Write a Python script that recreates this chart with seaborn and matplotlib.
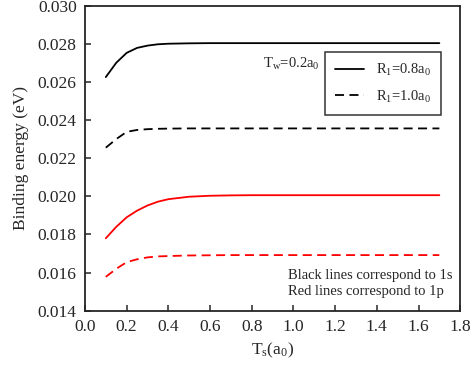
import numpy as np
import pandas as pd
import matplotlib.pyplot as plt
import seaborn as sns

# data
ts = [0.10, 0.15, 0.20, 0.25, 0.30, 0.35, 0.40, 0.50, 0.60, 0.70, 0.80, 1.00, 1.20, 1.40, 1.60, 1.70]
e_1s_r08 = [0.02625, 0.02700, 0.02752, 0.02778, 0.02790, 0.02797, 0.02800, 0.02802, 0.02803, 0.02803,
            0.02803, 0.02803, 0.02803, 0.02803, 0.02803, 0.02803]
e_1s_r10 = [0.02255, 0.02300, 0.02338, 0.02348, 0.02352, 0.02354, 0.02355, 0.02356, 0.02356, 0.02356,
            0.02356, 0.02356, 0.02356, 0.02356, 0.02356, 0.02356]
e_1p_r08 = [0.01780, 0.01840, 0.01890, 0.01925, 0.01952, 0.01972, 0.01985, 0.01998, 0.02003, 0.02005,
            0.02006, 0.02006, 0.02006, 0.02006, 0.02006, 0.02006]
e_1p_r10 = [0.01578, 0.01620, 0.01655, 0.01670, 0.01680, 0.01685, 0.01687, 0.01690, 0.01691, 0.01692,
            0.01692, 0.01692, 0.01692, 0.01692, 0.01692, 0.01692]

sns.set_style("ticks")
plt.rcParams['font.family'] = ['Liberation Serif', 'DejaVu Serif']
plt.rcParams.update({
    'mathtext.fontset': 'custom',
    'mathtext.rm': 'Liberation Serif',
    'mathtext.it': 'Liberation Serif:italic',
    'mathtext.bf': 'Liberation Serif:bold',
    'xtick.direction': 'in',
    'ytick.direction': 'in',
    'font.size': 12.5,
    'axes.linewidth': 1.3,
})

fig, ax = plt.subplots(figsize=(4.72, 3.70), dpi=100)

sns.lineplot(x=ts, y=e_1s_r08, ax=ax, color='black', lw=1.3, label=r'R$_\mathrm{1}$=0.8a$_\mathrm{0}$')
sns.lineplot(x=ts, y=e_1s_r10, ax=ax, color='black', lw=1.3, linestyle=(0, (5, 3)),
             label=r'R$_\mathrm{1}$=1.0a$_\mathrm{0}$')
sns.lineplot(x=ts, y=e_1p_r08, ax=ax, color='red', lw=1.3, legend=False)
sns.lineplot(x=ts, y=e_1p_r10, ax=ax, color='red', lw=1.3, linestyle=(0, (5, 3)), legend=False)

ax.set_xlim(0.0, 1.8)
ax.set_ylim(0.014, 0.030)
ax.set_xticks(np.arange(0.0, 1.81, 0.2))
ax.set_yticks(np.arange(0.014, 0.0301, 0.002))
ax.xaxis.set_major_formatter(plt.FormatStrFormatter('%.1f'))
ax.yaxis.set_major_formatter(plt.FormatStrFormatter('%.3f'))
ax.tick_params(labelsize=12.5, length=4, width=1.1, pad=6)

ax.set_xlabel(r'T$_\mathrm{s}$(a$_\mathrm{0}$)', fontsize=12.5, labelpad=4)
ax.set_ylabel('Binding energy (eV)', fontsize=12.5, labelpad=6)

leg = ax.legend(loc='upper right', bbox_to_anchor=(0.949, 0.848), fontsize=10.5, frameon=True,
                fancybox=False, edgecolor='black', handlelength=2.0, handletextpad=0.8,
                borderpad=0.7, labelspacing=0.7, borderaxespad=0.0)
leg.get_frame().set_linewidth(1.1)

ax.text(0.55, 0.81, r'T$_\mathrm{w}$=0.2a$_\mathrm{0}$', transform=ax.transAxes, fontsize=10.5,
        ha='center', va='center')
ax.text(0.54, 0.115, 'Black lines correspond to 1s', transform=ax.transAxes, fontsize=10.5, va='center')
ax.text(0.54, 0.062, 'Red lines correspond to 1p', transform=ax.transAxes, fontsize=10.5, va='center')

plt.subplots_adjust(left=0.18, right=0.975, bottom=0.16, top=0.985)
plt.savefig('out.png', dpi=100)
